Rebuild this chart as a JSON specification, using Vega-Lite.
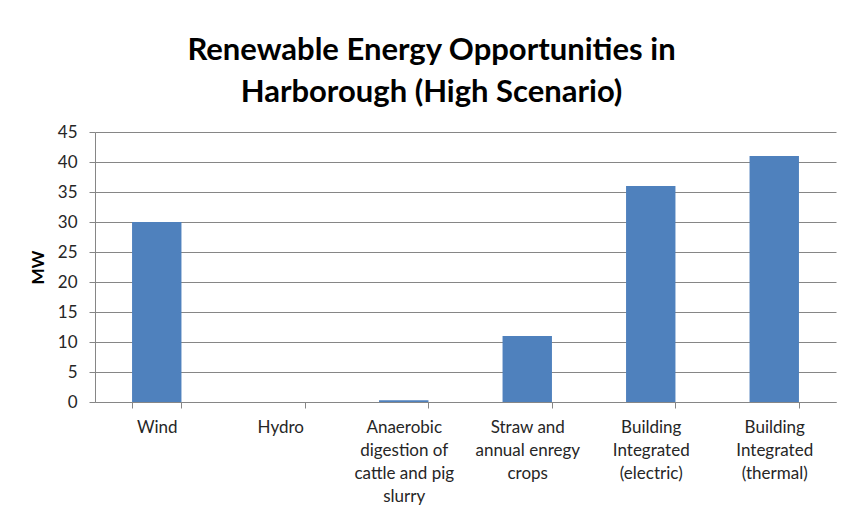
{
  "$schema": "https://vega.github.io/schema/vega-lite/v6.json",
  "width": 741,
  "height": 270,
  "autosize": {"type": "none"},
  "padding": {"left": 95, "top": 132, "right": 10, "bottom": 110},
  "background": "white",
  "title": {
    "text": ["Renewable Energy Opportunities in", "Harborough (High Scenario)"],
    "anchor": "middle",
    "frame": "group",
    "dx": -34,
    "font": "Lato",
    "fontSize": 31,
    "fontWeight": "bold",
    "lineHeight": 42,
    "color": "#000000",
    "offset": 14
  },
  "data": {
    "values": [
      {"source": "Wind", "mw": 30},
      {"source": "Hydro", "mw": 0},
      {"source": "Anaerobic|digestion of|cattle and pig|slurry", "mw": 0.3},
      {"source": "Straw and|annual enregy|crops", "mw": 11},
      {"source": "Building|Integrated|(electric)", "mw": 36},
      {"source": "Building|Integrated|(thermal)", "mw": 41}
    ]
  },
  "mark": {"type": "bar", "color": "#4F81BD"},
  "encoding": {
    "x": {
      "field": "source",
      "type": "nominal",
      "sort": null,
      "scale": {"paddingInner": 0.6, "paddingOuter": 0.3},
      "axis": {
        "title": null,
        "labelAngle": 0,
        "labelExpr": "split(datum.label, '|')",
        "labelFont": "Lato",
        "labelFontSize": 17,
        "labelLineHeight": 23,
        "labelColor": "#262626",
        "labelPadding": 11,
        "labelBaseline": "top",
        "tickBand": "extent",
        "tickSize": 6,
        "tickColor": "#868686",
        "domainColor": "#868686",
        "grid": false
      }
    },
    "y": {
      "field": "mw",
      "type": "quantitative",
      "scale": {"domain": [0, 45]},
      "axis": {
        "title": "MW",
        "titleFont": "Lato",
        "titleFontSize": 17,
        "titleFontWeight": "bold",
        "titleColor": "#000000",
        "titlePadding": 10,
        "values": [0, 5, 10, 15, 20, 25, 30, 35, 40, 45],
        "labelFont": "Lato",
        "labelFontSize": 17,
        "labelColor": "#262626",
        "labelPadding": 12,
        "tickSize": 6,
        "tickColor": "#868686",
        "domainColor": "#868686",
        "gridColor": "#868686",
        "grid": true
      }
    }
  },
  "config": {"view": {"stroke": null}}
}
